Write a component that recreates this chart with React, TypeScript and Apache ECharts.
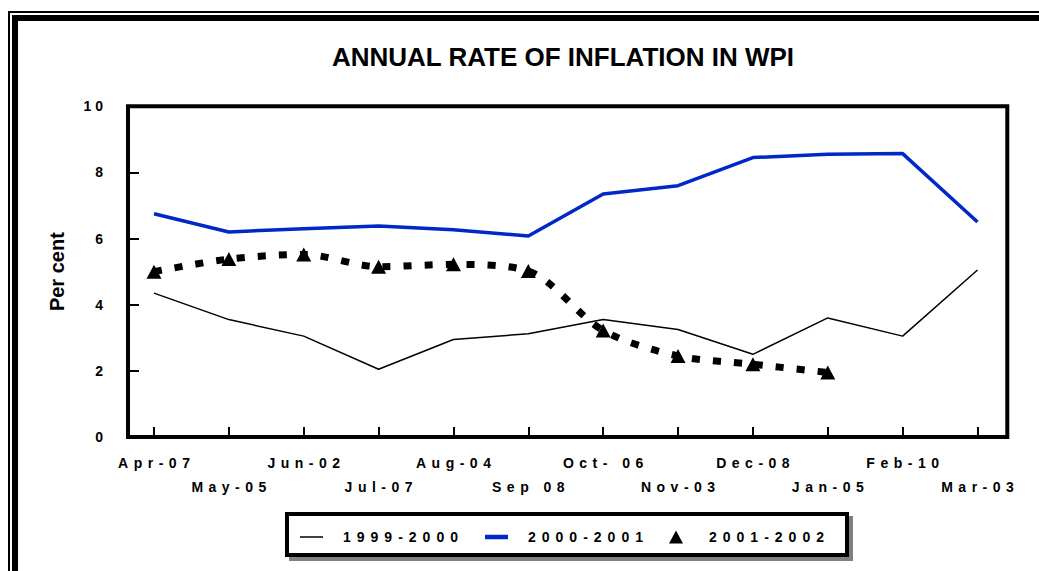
import React, { useEffect, useRef } from 'react';
import * as echarts from 'echarts';

const categories = ['Apr-07', 'May-05', 'Jun-02', 'Jul-07', 'Aug-04', 'Sep 08', 'Oct- 06', 'Nov-03', 'Dec-08', 'Jan-05', 'Feb-10', 'Mar-03'];
const seriesNames = ['1999-2000', '2000-2001', '2001-2002'];
const values1999 = [4.35, 3.55, 3.05, 2.05, 2.95, 3.12, 3.55, 3.25, 2.5, 3.6, 3.05, 5.05];
const values2000 = [6.75, 6.2, 6.3, 6.38, 6.27, 6.08, 7.35, 7.6, 8.45, 8.55, 8.57, 6.5];
const values2001 = [5.0, 5.38, 5.52, 5.15, 5.22, 5.02, 3.22, 2.45, 2.2, 1.95, null, null];
const yMin = 0;
const yMax = 10;
const yStep = 2;
const titleText = 'ANNUAL RATE OF INFLATION IN WPI';
const yAxisName = 'Per cent';

const FONT = "'Liberation Sans', Arial, sans-serif";

function spaceTexts(root: HTMLElement) {
  root.querySelectorAll('text').forEach((t) => {
    const s = t.textContent || '';
    let ls = 0;
    if (categories.includes(s)) ls = 5.5;
    else if (seriesNames.includes(s)) ls = 6;
    else if (/^\d+$/.test(s)) ls = 4;
    if (!ls) return;
    t.setAttribute('letter-spacing', String(ls));
    const anchor = t.getAttribute('text-anchor');
    if (anchor === 'middle') t.setAttribute('dx', String(ls / 2));
    else if (anchor === 'end') t.setAttribute('dx', String(ls));
  });
}

export default function App() {
  const ref = useRef<HTMLDivElement>(null);
  useEffect(() => {
    if (!ref.current) return;
    const el = ref.current;
    const chart = echarts.init(el, null, { renderer: 'svg' });
    const labelStyle = { fontSize: 14, fontWeight: 'bold' as const, color: '#000', fontFamily: FONT };
    const legendText = { fontSize: 14, fontWeight: 'bold' as const, color: '#000', fontFamily: FONT };
    chart.setOption({
      animation: false,
      backgroundColor: '#fff',
      title: {
        text: titleText,
        left: 563,
        top: 44,
        textAlign: 'center',
        padding: 0,
        textStyle: { fontSize: 26, fontWeight: 'bold', color: '#000', fontFamily: FONT },
      },
      grid: { left: 154, right: 61.5, top: 106.3, bottom: 134, show: false },
      xAxis: [
        {
          type: 'category',
          data: categories,
          boundaryGap: false,
          axisLine: { show: false },
          axisTick: { show: true, inside: true, length: 10, interval: 0, lineStyle: { color: '#000', width: 2 } },
          axisLabel: { interval: (i: number) => i % 2 === 0, margin: 19, ...labelStyle },
          splitLine: { show: false },
        },
        {
          type: 'category',
          data: categories,
          boundaryGap: false,
          position: 'bottom',
          axisLine: { show: false },
          axisTick: { show: false },
          axisLabel: { interval: (i: number) => i % 2 === 1, margin: 43, ...labelStyle },
          splitLine: { show: false },
        },
      ],
      yAxis: {
        type: 'value',
        min: yMin,
        max: yMax,
        interval: yStep,
        offset: 26,
        axisLine: { show: false },
        axisTick: { show: true, inside: true, length: 11, lineStyle: { color: '#000', width: 2 } },
        splitLine: { show: false },
        axisLabel: { margin: 25, ...labelStyle },
        name: yAxisName,
        nameLocation: 'middle',
        nameRotate: 90,
        nameGap: 61,
        nameTextStyle: { fontSize: 20, fontWeight: 'bold', color: '#000', fontFamily: FONT },
      },
      legend: [
        {
          data: [{ name: seriesNames[0], icon: 'path://M0,0M0,6.25L23,6.25L23,7.75L0,7.75ZM23,14' }],
          left: 300,
          top: 530,
          padding: 0,
          itemWidth: 23,
          itemHeight: 14,
          z: 20,
          textStyle: { ...legendText, padding: [0, 0, 0, 15] },
        },
        {
          data: [{ name: seriesNames[1], icon: 'path://M0,0M0,4.75L23,4.75L23,9.25L0,9.25ZM23,14' }],
          left: 485,
          top: 530,
          padding: 0,
          itemWidth: 23,
          itemHeight: 14,
          z: 20,
          textStyle: { ...legendText, padding: [0, 0, 0, 15] },
        },
        {
          data: [{ name: seriesNames[2], icon: 'triangle' }],
          left: 669,
          top: 530,
          padding: 0,
          itemWidth: 14,
          itemHeight: 13,
          z: 20,
          textStyle: { ...legendText, padding: [0, 0, 0, 21] },
        },
      ],
      graphic: [
        { type: 'rect', z: 1, shape: { x: 8, y: 11, width: 1031, height: 2 }, style: { fill: '#000' } },
        { type: 'rect', z: 1, shape: { x: 8, y: 11, width: 2, height: 560 }, style: { fill: '#000' } },
        { type: 'rect', z: 1, shape: { x: 12, y: 15, width: 1027, height: 6 }, style: { fill: '#000' } },
        { type: 'rect', z: 1, shape: { x: 12, y: 15, width: 6, height: 556 }, style: { fill: '#000' } },
        {
          type: 'rect',
          z: 1,
          shape: { x: 291, y: 518, width: 560, height: 41 },
          style: { fill: '#808080', stroke: '#808080', lineWidth: 4 },
        },
        {
          type: 'rect',
          z: 2,
          shape: { x: 287, y: 514, width: 560, height: 41 },
          style: { fill: '#fff', stroke: '#000', lineWidth: 4 },
        },
        {
          type: 'rect',
          z: 30,
          shape: { x: 128, y: 106.3, width: 879.3, height: 330.7 },
          style: { fill: 'none', stroke: '#000', lineWidth: 4 },
        },
      ],
      series: [
        {
          name: seriesNames[0],
          type: 'line',
          data: values1999,
          symbol: 'none',
          z: 3,
          lineStyle: { color: '#000', width: 1.5 },
          itemStyle: { color: '#000' },
        },
        {
          name: seriesNames[1],
          type: 'line',
          data: values2000,
          symbol: 'none',
          z: 3,
          lineStyle: { color: '#0028c8', width: 3.5 },
          itemStyle: { color: '#0028c8' },
        },
        {
          name: seriesNames[2],
          type: 'line',
          data: values2001,
          symbol: 'triangle',
          symbolSize: [15, 14],
          smooth: 0.3,
          z: 4,
          lineStyle: { color: '#000', width: 7, type: [8, 13] },
          itemStyle: { color: '#000' },
        },
      ],
    });
    spaceTexts(el);
    chart.on('finished', () => spaceTexts(el));
    return () => {
      chart.dispose();
    };
  }, []);
  return <div ref={ref} style={{ position: 'absolute', left: 0, top: 0, width: 1039, height: 571 }} />;
}
